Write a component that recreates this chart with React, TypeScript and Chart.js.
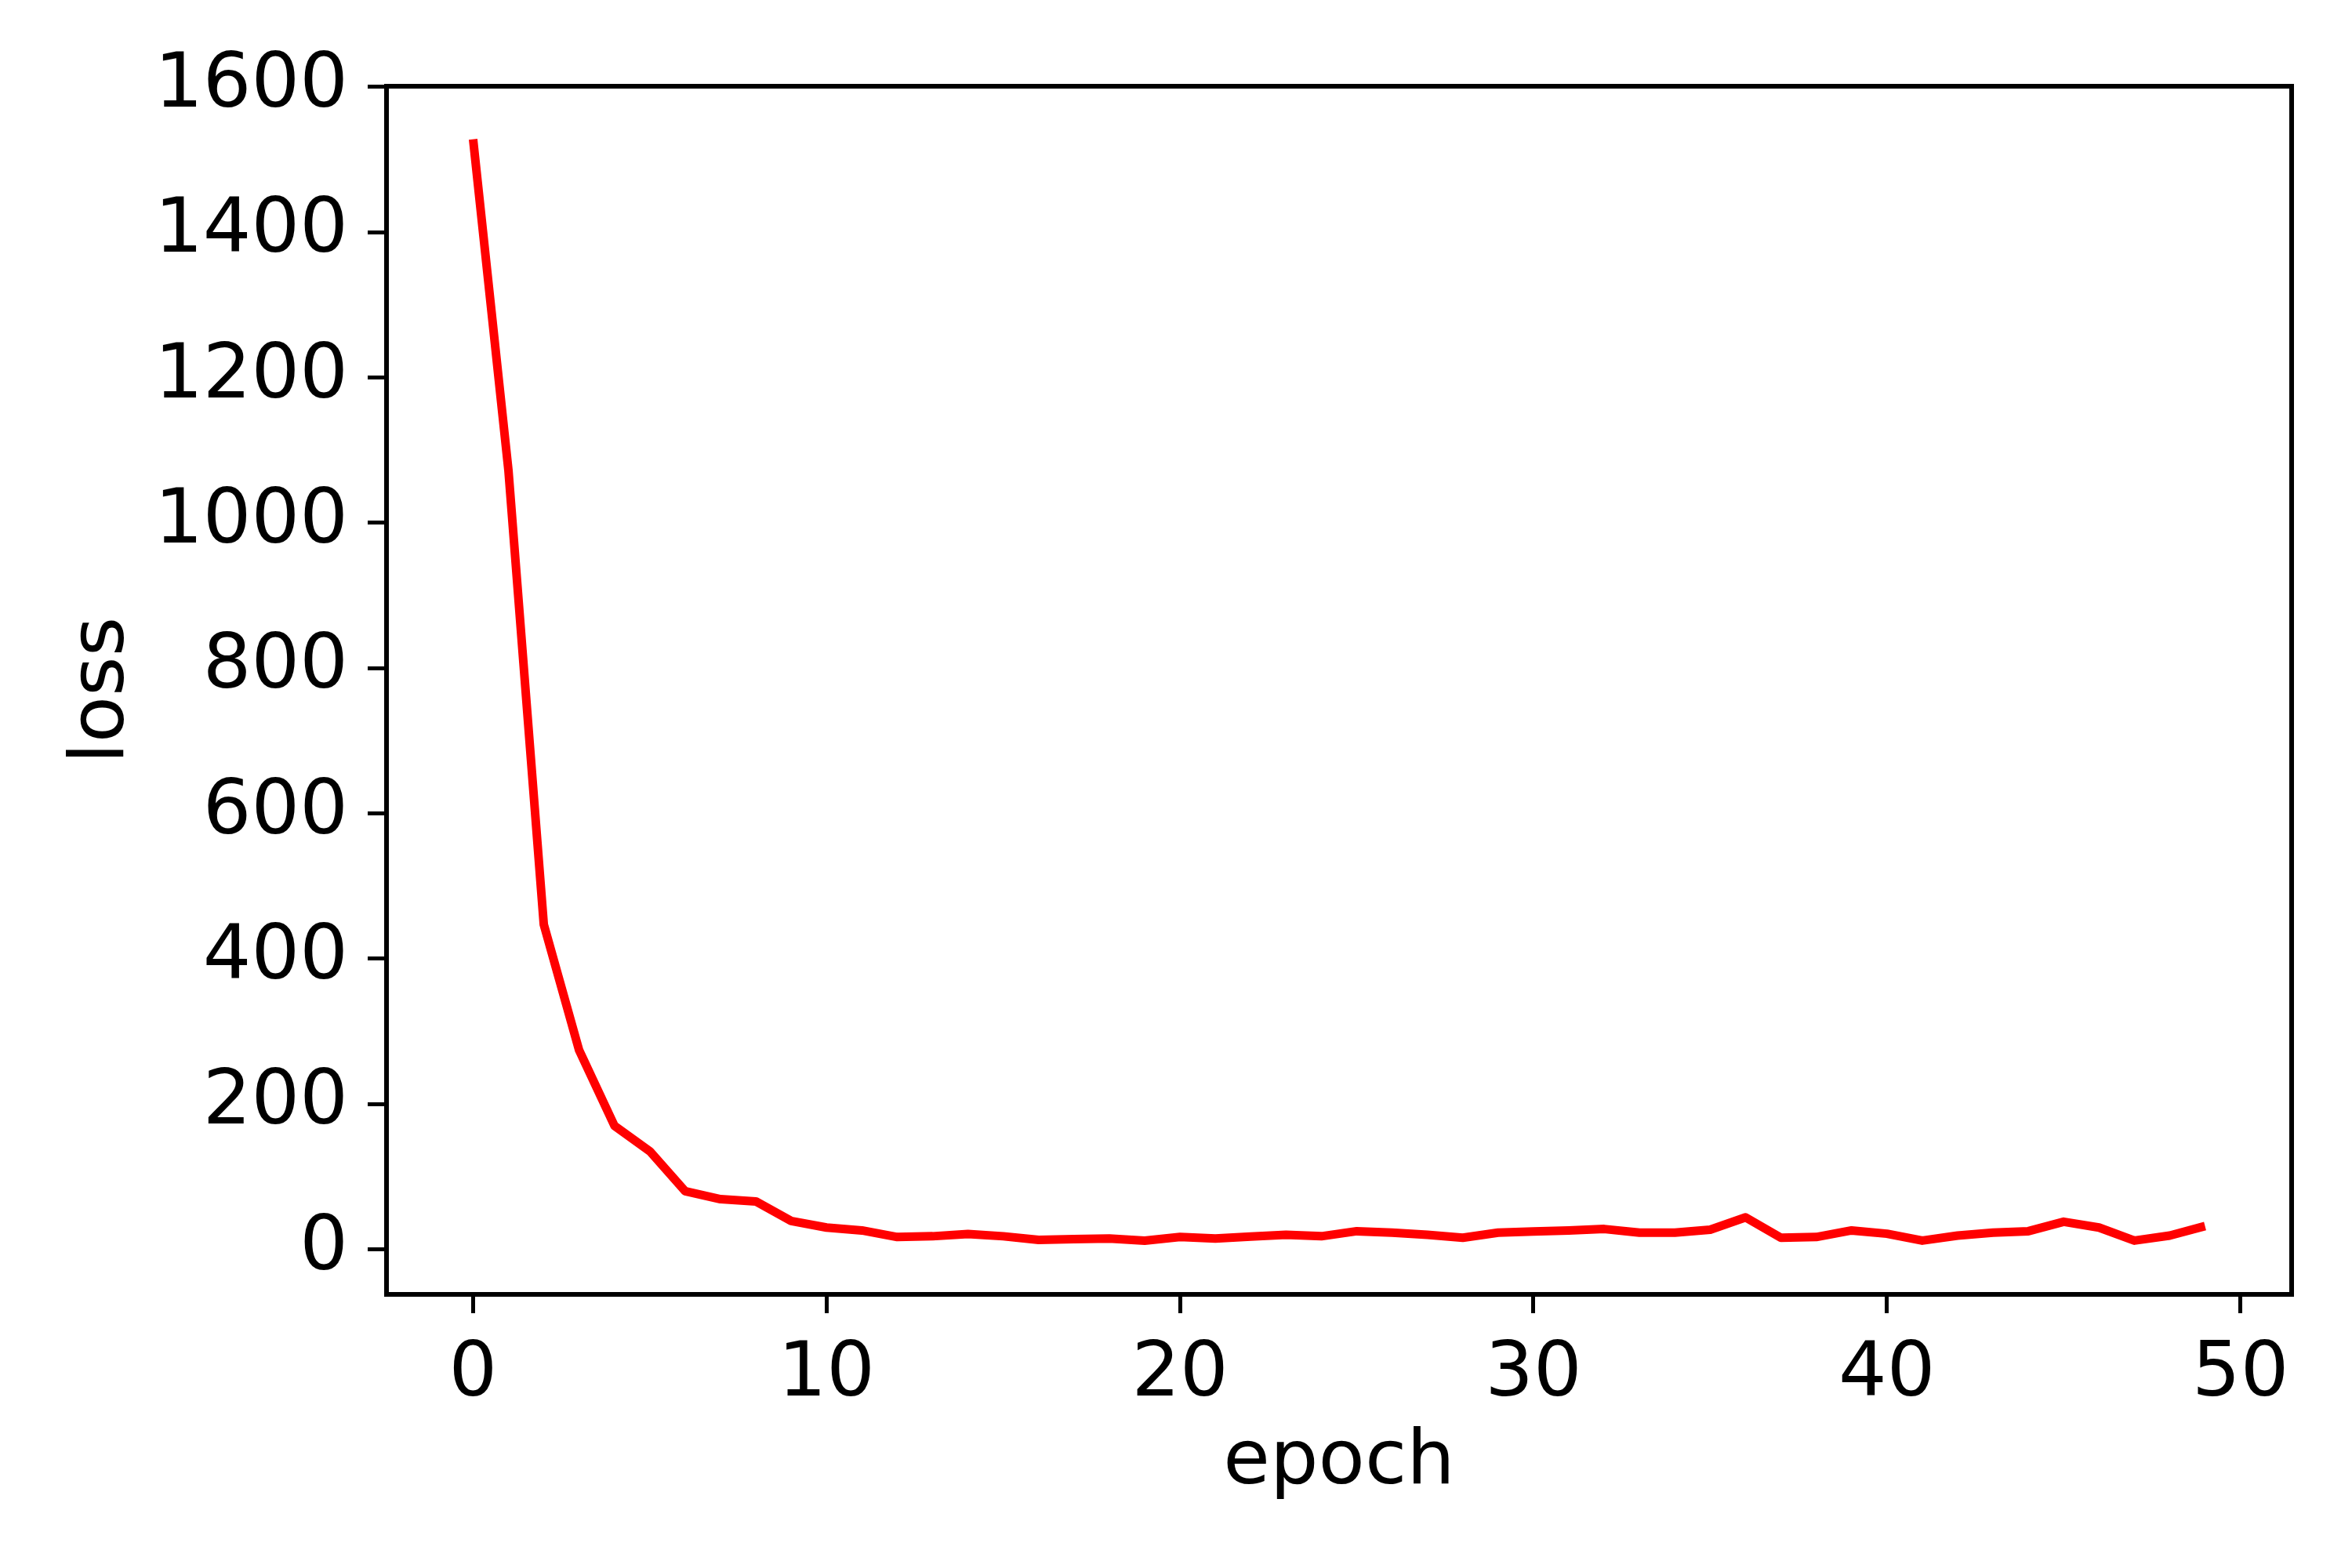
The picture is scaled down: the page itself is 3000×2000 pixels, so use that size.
import React, { useEffect, useRef } from "react";
import { Chart, registerables } from "chart.js";

Chart.register(...registerables);

const epochs = [
  0, 1, 2, 3, 4, 5, 6, 7, 8, 9, 10, 11, 12, 13, 14, 15, 16, 17, 18, 19, 20, 21, 22, 23, 24,
  25, 26, 27, 28, 29, 30, 31, 32, 33, 34, 35, 36, 37, 38, 39, 40, 41, 42, 43, 44, 45, 46, 47, 48, 49,
];
const loss = [
  1528, 1072, 447, 274, 170, 135, 80, 69, 66, 39, 30, 26, 17, 18, 21, 18, 13, 14, 15, 12, 17, 15,
  17.5, 20, 18, 25, 23, 20, 16, 23, 24.5, 26, 28, 23, 23, 27, 44, 16, 17, 26, 21.5, 12, 19, 23, 25,
  38, 30, 12, 19, 32,
];
const xTicks = [0, 10, 20, 30, 40, 50];
const yTicks = [0, 200, 400, 600, 800, 1000, 1200, 1400, 1600];
const xLabel = "epoch";
const yLabel = "loss";

export default function App() {
  const ref = useRef<HTMLCanvasElement>(null);

  useEffect(() => {
    if (!ref.current) return;
    const font = { family: "'DejaVu Sans'", size: 97 };
    const frame = {
      id: "frame",
      afterDraw(chart: any) {
        const { ctx, chartArea: a } = chart;
        ctx.save();
        ctx.strokeStyle = "#000";
        ctx.lineWidth = 6;
        ctx.strokeRect(a.left, a.top, a.right - a.left, a.bottom - a.top);
        ctx.restore();
      },
    };
    const chart = new Chart(ref.current, {
      type: "line",
      data: {
        datasets: [
          {
            data: epochs.map((e, i) => ({ x: e, y: loss[i] })),
            borderColor: "#ff0000",
            borderWidth: 11,
            borderJoinStyle: "round",
            pointRadius: 0,
            tension: 0,
            fill: false,
          },
        ],
      },
      options: {
        responsive: false,
        animation: false,
        devicePixelRatio: 1,
        layout: { padding: { left: 0, top: 110, right: 77, bottom: 0 } },
        plugins: { legend: { display: false }, tooltip: { enabled: false } },
        scales: {
          x: {
            type: "linear",
            min: -2.45,
            max: 51.45,
            afterBuildTicks: (s: any) => {
              s.ticks = xTicks.map((v) => ({ value: v }));
            },
            afterFit: (s: any) => {
              s.height = 2000 - 1651;
            },
            grid: {
              drawOnChartArea: false,
              drawTicks: true,
              tickLength: 24,
              tickWidth: 5,
              tickColor: "#000",
            },
            border: { display: false },
            ticks: {
              color: "#000",
              font,
              padding: 22,
              maxRotation: 0,
              autoSkip: false,
              callback: (v: any) => String(v),
            },
            title: {
              display: true,
              text: xLabel,
              color: "#000",
              font,
              padding: { top: 0, bottom: 75 },
            },
          },
          y: {
            type: "linear",
            min: -62,
            max: 1601,
            afterBuildTicks: (s: any) => {
              s.ticks = yTicks.map((v) => ({ value: v }));
            },
            afterFit: (s: any) => {
              s.width = 493;
            },
            grid: {
              drawOnChartArea: false,
              drawTicks: true,
              tickLength: 24,
              tickWidth: 5,
              tickColor: "#000",
            },
            border: { display: false },
            ticks: {
              color: "#000",
              font,
              padding: 25,
              autoSkip: false,
              callback: (v: any) => String(v),
            },
            title: {
              display: true,
              text: yLabel,
              color: "#000",
              font,
              padding: { top: 74, bottom: 0 },
            },
          },
        },
      },
      plugins: [frame],
    } as any);
    return () => chart.destroy();
  }, []);

  return (
    <div style={{ position: "absolute", left: 0, top: 0, width: 3000, height: 2000, background: "#fff" }}>
      <canvas ref={ref} width={3000} height={2000} style={{ display: "block" }} />
    </div>
  );
}
